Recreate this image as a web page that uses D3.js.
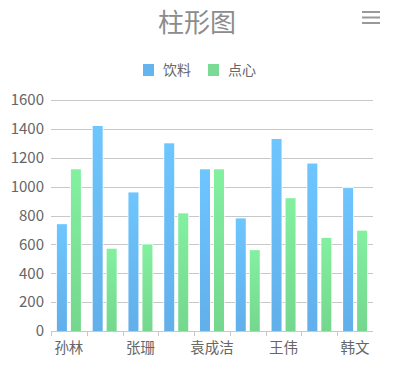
<!DOCTYPE html>
<html><head><meta charset="utf-8">
<script src="https://cdn.jsdelivr.net/npm/d3@7"></script>
<style>body{margin:0;background:#fff}svg{display:block}</style>
</head><body>
<svg id="c" width="406" height="366"></svg>
<script>
const categories = ["孙林","李明","张珊","刘洋","袁成洁","陈静","王伟","赵磊","韩文"];
const drinks = [740,1420,960,1300,1120,780,1330,1160,990];
const snacks = [1120,570,600,815,1120,560,920,645,695];
const seriesNames = ["饮料","点心"];
const yTicks = [0,200,400,600,800,1000,1200,1400,1600];

const svg = d3.select("#c");
const font = "'Noto Sans CJK SC','Microsoft YaHei',sans-serif";
const m = {l:51, r:373, t:100, b:331};

const defs = svg.append("defs");
function grad(id, top, bot){
  const g = defs.append("linearGradient").attr("id",id).attr("x1",0).attr("y1",0).attr("x2",0).attr("y2",1);
  g.append("stop").attr("offset","0%").attr("stop-color",top);
  g.append("stop").attr("offset","100%").attr("stop-color",bot);
}
grad("gb","#6ec6ff","#62afea");
grad("gg","#83f0a0","#74d78d");
const fills = ["url(#gb)","url(#gg)"];
const legendColors = ["#64b4ef","#7adc94"];

// title
svg.append("text").attr("x",197).attr("y",32).attr("text-anchor","middle")
  .attr("font-family",font).attr("font-size",26).attr("fill","#8c8c8c").text("柱形图");

// menu icon
[12,17.5,23].forEach(y=>svg.append("rect").attr("x",362).attr("y",y-1).attr("width",18).attr("height",2).attr("fill","#999"));

// legend
const legX = [143, 208];
seriesNames.forEach((n,i)=>{
  svg.append("rect").attr("x",legX[i]).attr("y",64).attr("width",11).attr("height",12).attr("fill",legendColors[i]);
  svg.append("text").attr("x",legX[i]+20).attr("y",75).attr("font-family",font).attr("font-size",14).attr("fill","#666").text(n);
});

const x = d3.scaleBand().domain(categories).range([m.l,m.r]);
const y = d3.scaleLinear().domain([0,1600]).range([m.b,m.t]);

// grid
svg.append("g").selectAll("line").data(yTicks.filter(d=>d>0)).join("line")
  .attr("x1",m.l).attr("x2",m.r).attr("y1",d=>Math.round(y(d))+0.5).attr("y2",d=>Math.round(y(d))+0.5)
  .attr("stroke","#c8c8c8").attr("stroke-width",1);

// y labels
const yAxis = d3.axisLeft(y).tickValues(yTicks).tickFormat(d3.format("d")).tickSize(0).tickPadding(7);
const ya = svg.append("g").attr("transform",`translate(${m.l},0)`).call(yAxis);
ya.select(".domain").remove();
ya.selectAll("text").attr("font-family",font).attr("font-size",15).attr("fill","#666");

// bars
const bw = 10, gap = 4;
const data = [drinks, snacks];
data.forEach((vals,si)=>{
  svg.append("g").selectAll("rect").data(vals).join("rect")
    .attr("x",(d,i)=>x(categories[i]) + x.bandwidth()/2 - (bw*2+gap)/2 + si*(bw+gap))
    .attr("y",d=>y(d)).attr("width",bw).attr("height",d=>m.b-y(d))
    .attr("fill",fills[si]).attr("stroke","#fff").attr("stroke-width",1.5).attr("paint-order","stroke");
});

// x axis
svg.append("line").attr("x1",m.l).attr("x2",m.r).attr("y1",m.b+0.5).attr("y2",m.b+0.5).attr("stroke","#c8c8c8");
svg.append("g").selectAll("line").data(categories).join("line")
  .attr("x1",d=>Math.round(x(d))+0.5).attr("x2",d=>Math.round(x(d))+0.5)
  .attr("y1",m.b).attr("y2",m.b+5).attr("stroke","#c8c8c8");
svg.append("g").selectAll("text").data(categories.filter((d,i)=>i%2===0)).join("text")
  .attr("x",d=>x(d)+x.bandwidth()/2).attr("y",353).attr("text-anchor","middle")
  .attr("font-family",font).attr("font-size",14.5).attr("fill","#666").text(d=>d);
</script>
</body></html>
